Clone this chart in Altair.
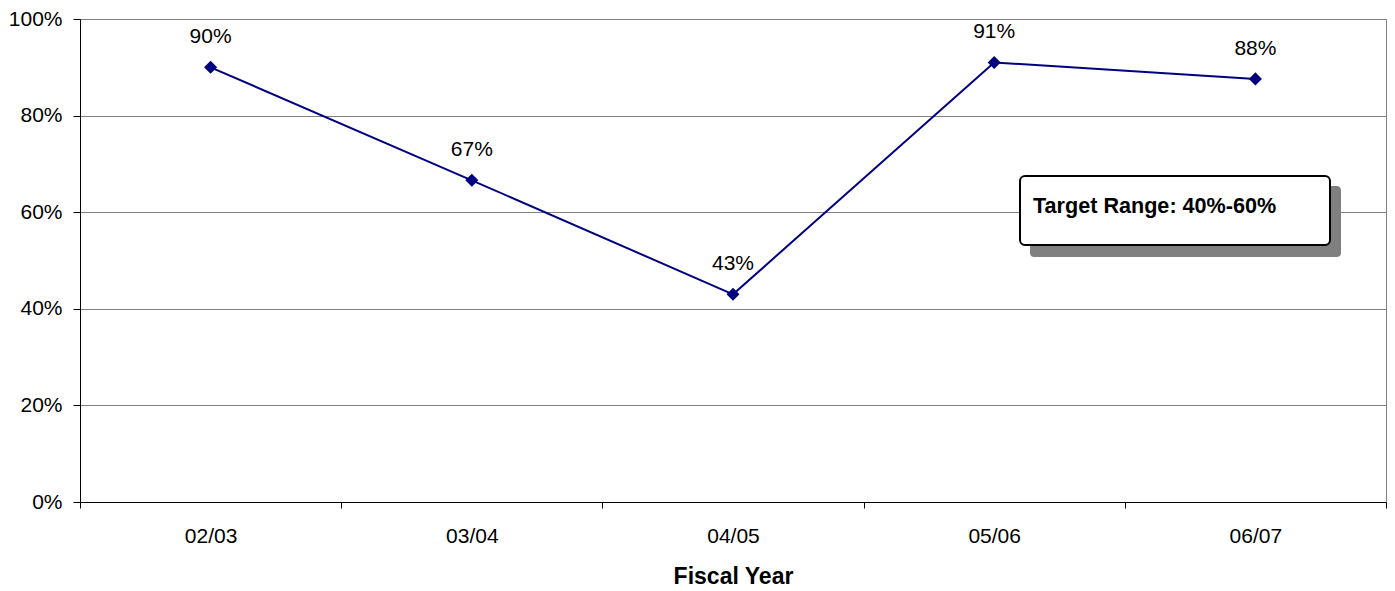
import altair as alt
import pandas as pd

years = ["02/03", "03/04", "04/05", "05/06", "06/07"]
rates = [0.90, 0.666, 0.43, 0.91, 0.876]
y_ticks = [0, 0.2, 0.4, 0.6, 0.8, 1.0]
axis_title = "Fiscal Year"
note_text = ["Target Range: 40%-60%"]

FONT = "Liberation Sans"
NAVY = "#000080"

df = pd.DataFrame({"year": years, "rate": rates})
note = pd.DataFrame({"t": note_text})

x_enc = alt.X(
    "year:N",
    sort=years,
    scale=alt.Scale(paddingInner=0, paddingOuter=0),
    axis=alt.Axis(
        title=axis_title, labelAngle=0, tickBand="extent", grid=False,
        tickSize=6, labelPadding=17, titlePadding=19,
        titleFontWeight="bold", titleFontSize=23, labelFontSize=21,
        domainColor="#000000", tickColor="#000000",
        labelFont=FONT, titleFont=FONT, labelColor="#000000", titleColor="#000000",
    ),
)
y_enc = alt.Y(
    "rate:Q",
    scale=alt.Scale(domain=[0, 1], nice=False),
    axis=alt.Axis(
        values=y_ticks, format=".0%", title=None, grid=True,
        gridColor="#808080", tickSize=7, labelPadding=11, labelFontSize=21,
        labelFont=FONT, labelColor="#000000",
        domainColor="#000000", tickColor="#000000",
    ),
)

base = alt.Chart(df).encode(x=x_enc, y=y_enc)

line = base.mark_line(color=NAVY, strokeWidth=2)
points = base.mark_point(shape="diamond", filled=True, size=170, color=NAVY, opacity=1)
labels = base.mark_text(dy=-24, baseline="alphabetic", fontSize=21, font=FONT, color="#000000").encode(
    text=alt.Text("rate:Q", format=".0%")
)

shadow = alt.Chart(note).mark_rect(color="#808080", cornerRadius=4).encode(
    x=alt.value(950), x2=alt.value(1261), y=alt.value(167), y2=alt.value(238)
)
box = alt.Chart(note).mark_rect(fill="white", stroke="black", strokeWidth=2, cornerRadius=5).encode(
    x=alt.value(940), x2=alt.value(1250), y=alt.value(157), y2=alt.value(226)
)
box_text = alt.Chart(note).mark_text(
    align="left", baseline="alphabetic", fontWeight="bold", fontSize=21.6, font=FONT, color="#000000"
).encode(x=alt.value(953), y=alt.value(194), text="t:N")

chart = alt.layer(shadow, box, box_text, line, points, labels).properties(
    width=1306,
    height=483,
    autosize=alt.AutoSizeParams(type="none"),
    padding={"left": 80, "top": 19, "right": 9, "bottom": 89},
    background="white",
).configure_view(stroke="#808080", strokeWidth=1)

chart.save("out.html", embed_options={"renderer": "svg", "actions": False})
